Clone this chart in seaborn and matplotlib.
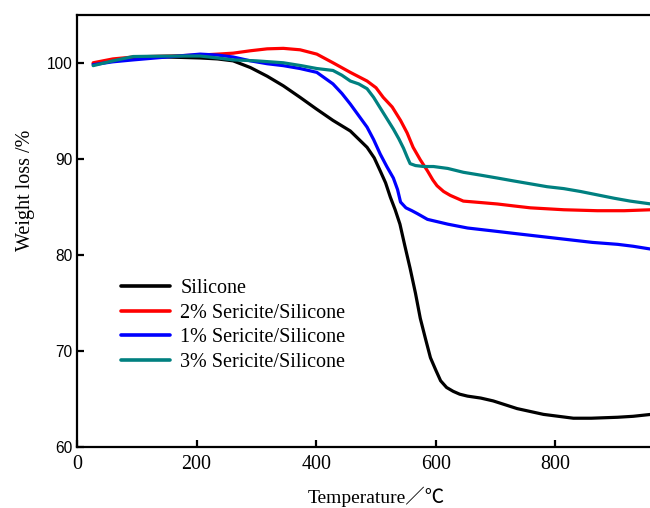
import pandas as pd
import matplotlib.pyplot as plt
import seaborn as sns

# TGA curves
x_sil = [27, 60, 94, 150, 206, 235, 261, 290, 318, 345, 373, 400, 428, 457, 485, 497, 507, 516, 524, 532, 540, 548, 557, 566, 574, 583, 591, 600, 608, 618, 629, 640, 653, 675, 696, 716, 736, 758, 780, 805, 830, 860, 904, 930, 960]
y_sil = [99.9, 100.3, 100.5, 100.6, 100.5, 100.4, 100.2, 99.5, 98.6, 97.6, 96.4, 95.2, 94.0, 92.9, 91.2, 90.1, 88.75, 87.5, 86.0, 84.7, 83.2, 81.0, 78.6, 76.0, 73.4, 71.2, 69.3, 68.0, 66.9, 66.2, 65.8, 65.5, 65.3, 65.1, 64.8, 64.4, 64.0, 63.7, 63.4, 63.2, 63.0, 63.0, 63.1, 63.2, 63.4]

x_2 = [27, 60, 94, 150, 206, 235, 261, 290, 318, 345, 373, 401, 428, 457, 485, 500, 512, 527, 541, 552, 562, 574, 586, 595, 602, 613, 624, 635, 646, 675, 703, 730, 758, 786, 814, 842, 870, 915, 960]
y_2 = [100.0, 100.4, 100.6, 100.7, 100.8, 100.9, 101.0, 101.25, 101.45, 101.5, 101.35, 100.9, 100.0, 99.0, 98.1, 97.4, 96.4, 95.4, 94.0, 92.7, 91.2, 89.9, 88.75, 87.8, 87.2, 86.6, 86.2, 85.9, 85.6, 85.45, 85.3, 85.1, 84.9, 84.8, 84.7, 84.65, 84.6, 84.6, 84.7]

x_1 = [27, 60, 94, 150, 206, 235, 261, 290, 318, 345, 373, 401, 428, 443, 457, 471, 485, 496, 507, 518, 529, 536, 541, 550, 560, 569, 586, 620, 653, 695, 736, 778, 820, 862, 904, 930, 960]
y_1 = [99.8, 100.1, 100.3, 100.6, 100.9, 100.8, 100.6, 100.2, 99.9, 99.7, 99.4, 99.0, 97.8, 96.8, 95.7, 94.5, 93.3, 92.0, 90.5, 89.2, 88.0, 86.8, 85.5, 84.9, 84.6, 84.3, 83.7, 83.2, 82.8, 82.5, 82.2, 81.9, 81.6, 81.3, 81.1, 80.9, 80.6]

x_3 = [27, 60, 94, 150, 206, 235, 261, 300, 345, 375, 401, 428, 443, 457, 471, 485, 496, 507, 518, 529, 538, 546, 552, 557, 566, 580, 596, 620, 646, 675, 703, 730, 758, 786, 814, 842, 870, 898, 925, 960]
y_3 = [99.7, 100.2, 100.65, 100.7, 100.7, 100.5, 100.3, 100.2, 100.0, 99.7, 99.4, 99.2, 98.7, 98.1, 97.8, 97.3, 96.4, 95.3, 94.2, 93.1, 92.1, 91.1, 90.2, 89.5, 89.3, 89.2, 89.2, 89.0, 88.6, 88.3, 88.0, 87.7, 87.4, 87.1, 86.9, 86.6, 86.25, 85.9, 85.6, 85.3]

xticks = [0, 200, 400, 600, 800]
yticks = [60, 70, 80, 90, 100]

labels = ['Silicone', '2% Sericite/Silicone', '1% Sericite/Silicone', '3% Sericite/Silicone']
colors = ['black', 'red', 'blue', '#008080']

frames = []
for lab, xs, ys in zip(labels, [x_sil, x_2, x_1, x_3], [y_sil, y_2, y_1, y_3]):
    frames.append(pd.DataFrame({'T': xs, 'W': ys, 'sample': lab}))
df = pd.concat(frames, ignore_index=True)

sns.set_style('ticks')
plt.rcParams['axes.edgecolor'] = 'black'
plt.rcParams['xtick.color'] = 'black'
plt.rcParams['ytick.color'] = 'black'
plt.rcParams['text.color'] = 'black'
plt.rcParams['axes.labelcolor'] = 'black'
serif = ['Liberation Serif', 'Noto Sans CJK SC', 'DejaVu Sans']
plt.rcParams['font.family'] = serif

fig = plt.figure(figsize=(6.5, 5.08), dpi=100)
# the original plot is cropped on the right: axes runs past the figure edge
ax = fig.add_axes([0.1185, 0.12, 0.92, 0.851])
sns.lineplot(data=df, x='T', y='W', hue='sample', hue_order=labels,
             palette=colors, estimator=None, sort=False, linewidth=2.3, ax=ax)

ax.set_xlim(0, 1000)
ax.set_ylim(60, 105)
ax.spines['right'].set_visible(False)
for s in ['left', 'bottom', 'top']:
    ax.spines[s].set_linewidth(1.6)
ax.tick_params(direction='in', length=5, width=1.6)
ax.tick_params(axis='x', pad=6)
ax.set_xticks(xticks, [str(v) for v in xticks], fontsize=14.4)
ax.set_yticks(yticks, [str(v) for v in yticks], fontsize=11.2,
              fontfamily=['Liberation Sans', 'DejaVu Sans'])

ax.set_xlabel('Temperature／℃', fontsize=14, labelpad=9)
ax.set_ylabel('Weight loss /%', fontsize=14.5)
ax.yaxis.set_label_coords(-0.07, 0.593)

leg = ax.legend(loc='upper left', bbox_to_anchor=(0.0736, 0.389), frameon=False,
                handlelength=2.45, handletextpad=0.5, labelspacing=0.28,
                borderaxespad=0, borderpad=0,
                prop={'family': serif, 'size': 14.5})
for h in leg.get_lines():
    h.set_linewidth(2.6)

plt.savefig('out.png', dpi=100)
